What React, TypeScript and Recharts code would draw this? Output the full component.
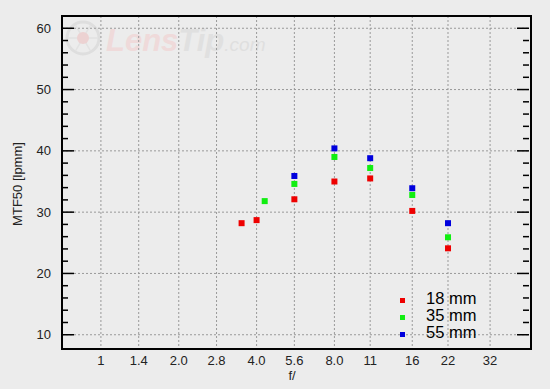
import React from 'react'
import {
  ScatterChart,
  Scatter,
  XAxis,
  YAxis,
  CartesianGrid,
} from 'recharts'

// f-stop tick labels, plotted on a log2 scale
const fStopTicks = [1, 1.4, 2, 2.8, 4, 5.6, 8, 11, 16, 22, 32]
const fStopLabels = ['1', '1.4', '2.0', '2.8', '4.0', '5.6', '8.0', '11', '16', '22', '32']
const yTicks = [10, 12, 14, 16, 18, 20, 22, 24, 26, 28, 30, 32, 34, 36, 38, 40, 42, 44, 46, 48, 50, 52, 54, 56, 58, 60]
const yGrid = [10, 20, 30, 40, 50, 60]

const f18 = [3.5, 4, 5.6, 8, 11, 16, 22]
const mtf18 = [28.2, 28.7, 32.1, 35.0, 35.5, 30.2, 24.1]
const f35 = [4.3, 5.6, 8, 11, 16, 22]
const mtf35 = [31.8, 34.6, 39.0, 37.2, 32.8, 25.9]
const f55 = [5.6, 8, 11, 16, 22]
const mtf55 = [35.9, 40.4, 38.8, 33.9, 28.2]

const series = [
  { name: '18 mm', color: '#ee0000', f: f18, mtf: mtf18 },
  { name: '35 mm', color: '#11ee11', f: f35, mtf: mtf35 },
  { name: '55 mm', color: '#0000dd', f: f55, mtf: mtf55 },
]

const W = 550
const H = 389
const LEFT = 62
const RIGHT = 529
const TOP = 16
const BOTTOM = 347
const FONT = '"Liberation Sans", Arial, sans-serif'

const stopPos = (f: number) => 2 * Math.log2(f)

const YTick = (props: any) => {
  const { y, payload } = props
  const v = payload.value
  const major = v % 10 === 0
  const len = major ? 12 : 6
  return (
    <g>
      <line x1={LEFT} x2={LEFT + len} y1={y} y2={y} stroke="#000" strokeWidth={1.5} />
      <line x1={RIGHT - len} x2={RIGHT} y1={y} y2={y} stroke="#000" strokeWidth={1.5} />
      {major && (
        <text x={51} y={y} textAnchor="end" dominantBaseline="central" fontSize={13} fill="#222" fontFamily={FONT}>
          {v}
        </text>
      )}
    </g>
  )
}

const XTick = (props: any) => {
  const { x, payload } = props
  const i = fStopTicks.findIndex((f) => Math.abs(stopPos(f) - payload.value) < 0.01)
  return (
    <text x={x} y={365} textAnchor="middle" fontSize={13} fill="#222" fontFamily={FONT}>
      {i >= 0 ? fStopLabels[i] : ''}
    </text>
  )
}

const LegendBox = () => (
  <div style={{ position: 'absolute', left: 400, top: 290, fontFamily: FONT, fontSize: 16.5, color: '#000', lineHeight: '17px' }}>
    {series.map((s) => (
      <div key={s.name} style={{ display: 'flex', alignItems: 'center', height: 17 }}>
        <span style={{ width: 5, height: 5, background: s.color, display: 'inline-block', marginRight: 21, marginTop: 3 }} />
        <span>{s.name}</span>
      </div>
    ))}
  </div>
)

// faint site logo behind the plot
const Watermark = () => (
  <svg width={240} height={50} style={{ position: 'absolute', left: 62, top: 17 }}>
    <circle cx={21} cy={21} r={16} fill="none" stroke="#dedede" strokeWidth={3} />
    {[0, 60, 120, 180, 240, 300].map((a) => (
      <line
        key={a}
        x1={21}
        y1={21}
        x2={21 + 15 * Math.cos((a * Math.PI) / 180)}
        y2={21 + 15 * Math.sin((a * Math.PI) / 180)}
        stroke="#e2e2e2"
        strokeWidth={1.5}
      />
    ))}
    <circle cx={21} cy={21} r={6} fill="#ecd2d2" />
    <text x={44} y={34} fontFamily={FONT} fontStyle="italic" fontWeight="bold" fontSize={31} fill="#efdada">
      Lens
      <tspan fill="#e0e0e0">Tip</tspan>
      <tspan fontSize={19} fontWeight="normal" fill="#dfdfdf">.com</tspan>
    </text>
  </svg>
)

export default function App() {
  return (
    <div style={{ position: 'absolute', left: 0, top: 0, width: W, height: H, background: '#ececec' }}>
      <Watermark />
      <div style={{ position: 'absolute', left: 0, top: 0 }}>
        <ScatterChart width={W} height={H} margin={{ top: TOP, right: W - RIGHT, left: 0, bottom: 0 }}>
          <CartesianGrid
            stroke="#999"
            strokeDasharray="2 2"
            horizontalValues={yGrid}
            verticalValues={fStopTicks.map(stopPos)}
          />
          <XAxis
            type="number"
            dataKey="x"
            domain={[-1, 11]}
            ticks={fStopTicks.map(stopPos)}
            interval={0}
            height={H - BOTTOM}
            tick={<XTick />}
            tickLine={false}
            axisLine={false}
            allowDataOverflow
            label={{
              content: () => (
                <text x={292} y={380} textAnchor="middle" fontSize={13} fill="#222" fontFamily={FONT}>
                  f/
                </text>
              ),
            }}
          />
          <YAxis
            type="number"
            dataKey="y"
            domain={[8, 62]}
            ticks={yTicks}
            interval={0}
            width={LEFT}
            tick={<YTick />}
            tickLine={false}
            axisLine={false}
            allowDataOverflow
            label={{
              content: () => (
                <text
                  x={22}
                  y={184}
                  transform="rotate(-90 22 184)"
                  textAnchor="middle"
                  fontSize={13}
                  fill="#222"
                  fontFamily={FONT}
                >
                  MTF50 [lpmm]
                </text>
              ),
            }}
          />
          {series.map((s) => (
            <Scatter
              key={s.name}
              name={s.name}
              data={s.f.map((f, i) => ({ x: stopPos(f), y: s.mtf[i] }))}
              fill={s.color}
              isAnimationActive={false}
              shape={(p: any) => <rect x={p.cx - 3} y={p.cy - 3} width={6} height={6} fill={s.color} />}
            />
          ))}
        </ScatterChart>
      </div>
      <LegendBox />
      <div
        style={{
          position: 'absolute',
          left: LEFT - 1,
          top: TOP - 1,
          width: RIGHT - LEFT,
          height: BOTTOM - TOP,
          border: '2px solid #000',
          pointerEvents: 'none',
        }}
      />
    </div>
  )
}
